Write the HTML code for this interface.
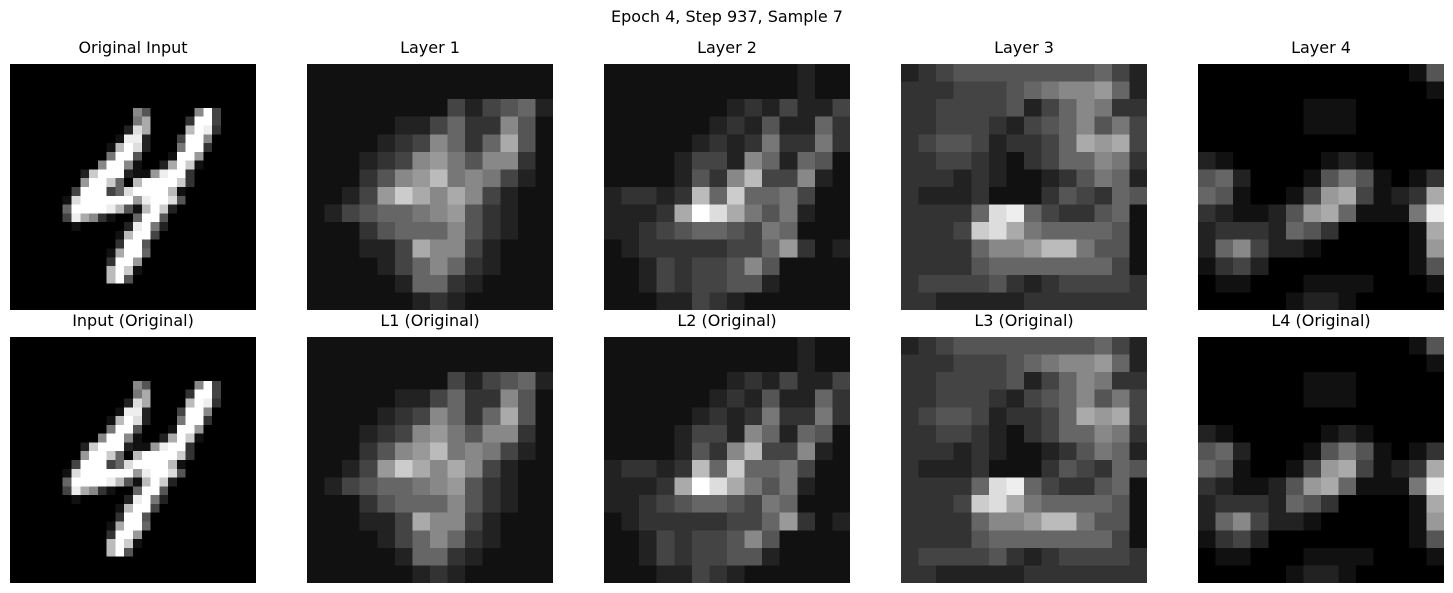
<!DOCTYPE html>
<html><head><meta charset="utf-8">
<style>
body{margin:0;background:#fff;width:1453px;height:593px;overflow:hidden;position:relative;font-family:"DejaVu Sans","Liberation Sans",sans-serif;}
.t{position:absolute;font-size:16px;color:#000;text-align:center;white-space:nowrap;transform:translateX(-50%);}
svg{position:absolute;}
</style></head><body>
<div class="t" style="left:727px;top:7px;">Epoch 4, Step 937, Sample 7</div>
<div id="root"></div>
<script>
// Input digit (28x28), sparse rows: [row, startCol, hex values]
const inputRows = [
[5,14,"85000008f4"],[6,14,"7a00003ff4"],[7,13,"2da0000bfe3"],[8,12,"1ee20004ff8"],
[9,11,"1bfd20007ff3"],[10,11,"7ff50001ff9"],[11,10,"8ff81002afc1"],[12,8,"2cfff2119eff3"],
[13,8,"9ffc60bffffc3"],[14,7,"4fff46dffffb1"],[15,6,"1dffffff9effd5"],[16,6,"6ffffeb51bfc2"],
[17,6,"4ea831006ff5"],[18,7,"1000002ef72"],[19,12,"1bff4"],[20,12,"3ff5"],
[21,11,"1aff6"],[22,11,"3ff9"],[23,11,"bfc1"],[24,11,"bf5"]
];
// Layer activations (14x14 coarse grids, hex intensity)
const layer1 = ["11111111111111","11111111111111","11111111424562","11111224633851","11112348636a51",
"11123489758831","1113589b787421","11249ca8a84211","12456678953211","11135666853211",
"111224a8842111","11112468632111","11111266321111","11111123211111"];
const layer2 = ["11111111111211","11111111111211","11111112324224","11111123252263","11111232373373",
"11112442862651","11112538b44821","23323b6c667411","2223afda757211","22345665476111",
"12333334469312","11243445851111","11243445521111","11122432111111"];
const layer3 = ["23455555555642","33344456788962","33444452468733","33444324568574","3455423346a9a4",
"33443213466873","33323211235762","32223111354365","33336de6433561","3334cda7666651",
"33336889bb7551","33335666666641","34444532344443","33222223333333"];
const layer4 = ["00000000000015","00000000000001","00000011100000","00000011100000","00000000000000",
"21000001210000","56200015751013","65100149a4123a","3211259a61117e","2333265300001a",
"26842210000019","13420000000015","01100011110001","00000122100000"];
const titlesTop = ["Original Input","Layer 1","Layer 2","Layer 3","Layer 4"];
const titlesBottom = ["Input (Original)","L1 (Original)","L2 (Original)","L3 (Original)","L4 (Original)"];

function inputGrid(){
  const g=[];for(let r=0;r<28;r++)g.push(new Array(28).fill(0));
  inputRows.forEach(([r,c,s])=>{for(let i=0;i<s.length;i++)g[r][c+i]=parseInt(s[i],16);});
  return g;
}
function strGrid(a){return a.map(s=>s.split("").map(ch=>parseInt(ch,16)||0));}
const grids=[inputGrid(),strGrid(layer1),strGrid(layer2),strGrid(layer3),strGrid(layer4)];
const colX=[10,307,604,901,1198], rowY=[64,337], size=246;
const root=document.getElementById('root');
const NS="http://www.w3.org/2000/svg";
for(let row=0;row<2;row++){
  for(let p=0;p<5;p++){
    const g=grids[p], n=g.length, cs=size/n;
    const svg=document.createElementNS(NS,'svg');
    
    
    svg.setAttribute('width',size);svg.setAttribute('height',size);
    svg.setAttribute('shape-rendering','crispEdges');
    svg.style.left=colX[p]+'px';svg.style.top=rowY[row]+'px';
    for(let r=0;r<n;r++)for(let c=0;c<n;c++){
      const v=g[r][c]*17;
      const rect=document.createElementNS(NS,'rect');
      
      
      rect.setAttribute('x',(c*cs).toFixed(2));rect.setAttribute('y',(r*cs).toFixed(2));
      rect.setAttribute('width',(cs+0.6).toFixed(2));rect.setAttribute('height',(cs+0.6).toFixed(2));
      rect.setAttribute('fill','rgb('+v+','+v+','+v+')');
      svg.appendChild(rect);
    }
    root.appendChild(svg);
    const t=document.createElement('div');
    t.className='t';
    
    
    t.textContent=row?titlesBottom[p]:titlesTop[p];
    t.style.left=(colX[p]+size/2)+'px';
    t.style.top=(rowY[row]-26)+'px';
    root.appendChild(t);
  }
}
</script>
</body></html>
